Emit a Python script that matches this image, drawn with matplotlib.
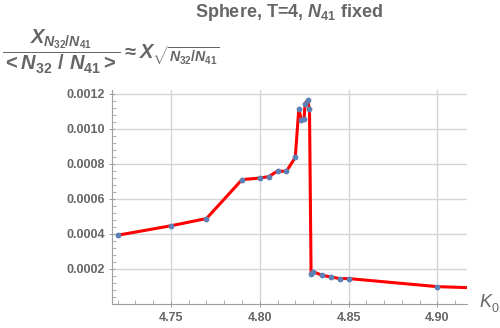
import matplotlib
matplotlib.use("Agg")
import matplotlib.pyplot as plt
from matplotlib.ticker import MultipleLocator, FormatStrFormatter

k0 = [4.72, 4.75, 4.77, 4.79, 4.80, 4.805, 4.81, 4.815, 4.82, 4.822, 4.8235,
      4.825, 4.8255, 4.827, 4.828, 4.8289, 4.8298, 4.835, 4.84, 4.845, 4.85,
      4.90, 4.95]
chi = [0.000392, 0.000446, 0.000487, 0.000709, 0.000718, 0.000726, 0.000758,
       0.000756, 0.000836, 0.001114, 0.001047, 0.001057, 0.001143, 0.001162,
       0.001109, 0.000171, 0.000185, 0.000164, 0.000154, 0.000145, 0.000145,
       0.0000989, 0.000082]

xticks = [4.75, 4.80, 4.85, 4.90]
yticks = [0.0002, 0.0004, 0.0006, 0.0008, 0.0010, 0.0012]

plt.rcParams['mathtext.fontset'] = 'custom'
plt.rcParams['mathtext.rm'] = 'Liberation Sans:bold'
plt.rcParams['mathtext.it'] = 'Liberation Sans:italic:bold'
plt.rcParams['mathtext.bf'] = 'Liberation Sans:bold'
plt.rcParams['font.family'] = ['Liberation Sans', 'DejaVu Sans']

gray = '#666666'
fig = plt.figure(figsize=(5.0, 3.28), dpi=100)
ax = fig.add_axes([0.2246, 0.0732, 0.7088, 0.6524])

ax.plot(k0, chi, color='#ff0000', lw=2.2, zorder=3, clip_on=True)
ax.plot(k0, chi, 'o', color='#5e81b5', ms=4.2, mec='none', zorder=4)

ax.set_xlim(4.717, 4.9165)
ax.set_ylim(0.0, 0.00122)
ax.set_xticks(xticks)
ax.set_yticks(yticks)
ax.xaxis.set_minor_locator(MultipleLocator(0.01))
ax.yaxis.set_minor_locator(MultipleLocator(0.00004))
ax.xaxis.set_major_formatter(FormatStrFormatter('%.2f'))
ax.yaxis.set_major_formatter(FormatStrFormatter('%.4f'))

ax.grid(True, which='major', color='#d6d6d6', lw=1.0, zorder=0)
for s in ['top', 'right']:
    ax.spines[s].set_visible(False)
for s in ['left', 'bottom']:
    ax.spines[s].set_color('#a0a0a0')
    ax.spines[s].set_linewidth(0.8)

ax.tick_params(which='major', direction='inout', length=5, width=0.7,
               color='#a0a0a0', labelsize=9, labelcolor=gray)
ax.tick_params(which='minor', direction='in', length=3, width=0.6, color='#a0a0a0')
ax.tick_params(axis='x', which='major', pad=3)
ax.tick_params(axis='y', which='major', pad=3)
for lbl in ax.get_xticklabels() + ax.get_yticklabels():
    lbl.set_fontweight('bold')

fig.text(0.577, 0.963, r'Sphere, T=4, $N_{41}$ fixed', ha='center', va='center',
         fontsize=13, fontweight='bold', color=gray)
fig.text(0.004, 0.842,
         r'$\dfrac{X_{N_{32}/N_{41}}}{<N_{32}\ /\ N_{41}>}\approx X_{\sqrt{N_{32}/N_{41}}}$',
         ha='left', va='center', fontsize=14.5, color=gray)
fig.text(0.958, 0.078, 'K', ha='left', va='center', fontsize=13,
         style='italic', color=gray)
fig.text(0.984, 0.058, '0', ha='left', va='center', fontsize=9, color=gray)

fig.savefig('out.png', dpi=100)
